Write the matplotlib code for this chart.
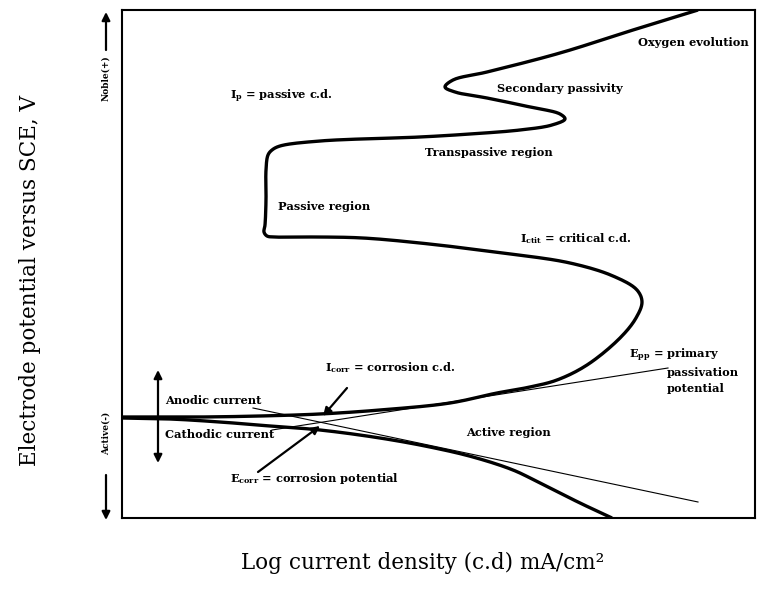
import numpy as np
import matplotlib
matplotlib.use("Agg")
import matplotlib.pyplot as plt

plt.rcParams["mathtext.fontset"] = "dejavuserif"

# schematic polarization curve, x = log current density, E = potential (arb. units)
anodic_x = [0, 78, 138, 198, 258, 328, 375, 408, 435, 465, 498, 514, 520, 515,
            491, 448, 381, 298, 241, 198, 153, 145, 142, 143, 144, 144, 146, 150,
            158, 198, 298, 348, 398, 430, 443, 438, 408, 365, 333, 323, 331, 365,
            438, 511, 576]
anodic_E = [101, 101, 102, 104, 108, 115, 125, 131, 138, 153, 180, 200, 216, 228,
            242, 255, 265, 275, 280, 281, 281, 282, 286, 293, 318, 348, 363, 368,
            372, 377, 381, 384, 388, 393, 399, 404, 411, 420, 426, 431, 438, 446,
            465, 488, 508]
cathodic_x = [0, 48, 98, 148, 198, 258, 308, 351, 391, 418, 458, 490]
cathodic_E = [100, 99, 96, 92, 88, 80, 71, 61, 48, 35, 15, 0]

# Tafel extrapolations
anodic_tafel_x = [150, 546]
anodic_tafel_E = [88, 150]
cathodic_tafel_x = [131, 576]
cathodic_tafel_E = [110, 16]

X_MAX, E_MAX = 633, 508


def smooth(x, y, n=16):
    """Centripetal Catmull-Rom curve through the given points."""
    pts = np.column_stack([x, y]).astype(float)
    p = np.vstack([2 * pts[0] - pts[1], pts, 2 * pts[-1] - pts[-2]])
    segs = []
    for i in range(1, len(p) - 2):
        p0, p1, p2, p3 = p[i - 1], p[i], p[i + 1], p[i + 2]
        t0 = 0.0
        t1 = t0 + np.linalg.norm(p1 - p0) ** 0.5
        t2 = t1 + np.linalg.norm(p2 - p1) ** 0.5
        t3 = t2 + np.linalg.norm(p3 - p2) ** 0.5
        t = np.linspace(t1, t2, n, endpoint=False)[:, None]
        a1 = (t1 - t) / (t1 - t0) * p0 + (t - t0) / (t1 - t0) * p1
        a2 = (t2 - t) / (t2 - t1) * p1 + (t - t1) / (t2 - t1) * p2
        a3 = (t3 - t) / (t3 - t2) * p2 + (t - t2) / (t3 - t2) * p3
        b1 = (t2 - t) / (t2 - t0) * a1 + (t - t0) / (t2 - t0) * a2
        b2 = (t3 - t) / (t3 - t1) * a2 + (t - t1) / (t3 - t1) * a3
        segs.append((t2 - t) / (t2 - t1) * b1 + (t - t1) / (t2 - t1) * b2)
    segs.append(pts[-1:])
    out = np.vstack(segs)
    return out[:, 0], out[:, 1]


W, H = 757, 597
fig = plt.figure(figsize=(W / 100, H / 100), dpi=100)
ax = fig.add_axes([122 / W, (H - 518) / H, 633 / W, 508 / H])
ax.set_xlim(0, X_MAX)
ax.set_ylim(0, E_MAX)
ax.set_xticks([])
ax.set_yticks([])
for s in ax.spines.values():
    s.set_linewidth(1.5)

thick = dict(color="black", lw=2.4, solid_capstyle="butt", solid_joinstyle="round")
ax.plot(*smooth(anodic_x, anodic_E), **thick)
ax.plot(*smooth(cathodic_x, cathodic_E), **thick)
ax.plot(anodic_tafel_x, anodic_tafel_E, color="black", lw=0.8)
ax.plot(cathodic_tafel_x, cathodic_tafel_E, color="black", lw=0.8)

# arrows inside the plot
arr = dict(arrowstyle="-|>", color="black", lw=1.6, mutation_scale=12,
           shrinkA=0, shrinkB=0)
ax.annotate("", xy=(36, 148), xytext=(36, 55),
            arrowprops=dict(arr, arrowstyle="<|-|>"))
ax.annotate("", xy=(201, 102), xytext=(225, 130), arrowprops=arr)
ax.annotate("", xy=(198, 92), xytext=(136, 46), arrowprops=arr)

lab = dict(family="DejaVu Serif", fontweight="bold", fontsize=8.2, va="center")
ax.text(43, 118, "Anodic current", **lab)
ax.text(43, 83, "Cathodic current", **lab)
ax.text(203, 150, r"I$_{\mathbf{corr}}$ = corrosion c.d.", **lab)
ax.text(108, 40, r"E$_{\mathbf{corr}}$ = corrosion potential", **lab)
ax.text(344, 86, "Active region", **lab)
ax.text(507, 163, r"E$_{\mathbf{pp}}$ = primary", **lab)
ax.text(545, 146, "passivation", **lab)
ax.text(545, 129, "potential", **lab)
ax.text(398, 279, r"I$_{\mathbf{ctit}}$ = critical c.d.", **lab)
ax.text(156, 312, "Passive region", **lab)
ax.text(303, 366, "Transpassive region", **lab)
ax.text(375, 430, "Secondary passivity", **lab)
ax.text(516, 476, "Oxygen evolution", **lab)
ax.text(108, 422, r"I$_{\mathbf{p}}$ = passive c.d.", **lab)

# noble / active direction arrows left of the frame
side = dict(arrowstyle="-|>", color="black", lw=1.6, mutation_scale=12,
            shrinkA=0, shrinkB=0)
ax.annotate("", xy=(-16, 506), xytext=(-16, 468), arrowprops=side,
            annotation_clip=False)
ax.annotate("", xy=(-16, -2), xytext=(-16, 43), arrowprops=side,
            annotation_clip=False)
ax.text(-16, 440, "Noble(+)", rotation=90, ha="center", va="center",
        family="DejaVu Serif", fontweight="bold", fontsize=6.5, clip_on=False)
ax.text(-16, 85, "Active(-)", rotation=90, ha="center", va="center",
        family="DejaVu Serif", fontweight="bold", fontsize=6.5, clip_on=False)

fig.text(423 / W, 1 - 563 / H, "Log current density (c.d) mA/cm²",
         family="DejaVu Serif", fontsize=15.5, ha="center", va="center")
fig.text(30 / W, 1 - 280 / H, "Electrode potential versus SCE, V",
         family="DejaVu Serif", fontsize=15.5, rotation=90, ha="center", va="center")

fig.savefig("out.png", dpi=100)
